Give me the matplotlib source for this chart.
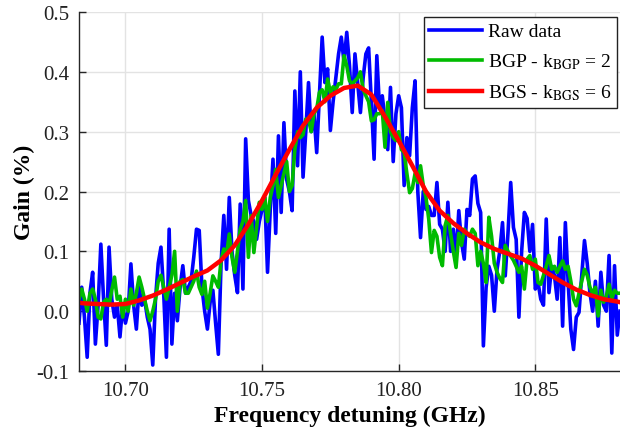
import numpy as np
import matplotlib
matplotlib.use("Agg")
import matplotlib.pyplot as plt

# frequency grid of the measurement (GHz), 1 MHz step
freq = np.linspace(10.683, 10.881, 199)

raw_gain = [
    -0.02, 0.04, -0.01, -0.077, 0.03, 0.065, -0.055, 0.01, 0.112, 0.02,
    -0.057, 0.107, 0.02, -0.01, 0.01, -0.043, 0.01, -0.02, 0.0, 0.079,
    0.01, -0.03, 0.04, 0.01, 0.02, -0.01, -0.03, -0.09, 0.02, 0.08,
    0.107, 0.03, -0.077, 0.137, -0.055, 0.03, -0.016, 0.04, 0.076, 0.03,
    0.04, 0.05, 0.09, 0.137, 0.135, 0.04, 0.0, -0.03, 0.015, 0.035,
    -0.02, -0.072, 0.08, 0.16, 0.07, 0.19, 0.1, 0.06, 0.031, 0.179,
    0.037, 0.288, 0.185, 0.16, 0.15, 0.12, 0.15, 0.17, 0.19, 0.065,
    0.17, 0.254, 0.13, 0.293, 0.165, 0.315, 0.22, 0.2, 0.168, 0.368,
    0.243, 0.4, 0.224, 0.3, 0.382, 0.3, 0.33, 0.265, 0.36, 0.458,
    0.382, 0.405, 0.302, 0.35, 0.39, 0.43, 0.458, 0.416, 0.466, 0.41,
    0.332, 0.43, 0.38, 0.332, 0.39, 0.43, 0.44, 0.35, 0.254, 0.427,
    0.338, 0.36, 0.32, 0.27, 0.374, 0.25, 0.33, 0.36, 0.34, 0.21,
    0.29, 0.26, 0.34, 0.385, 0.2, 0.123, 0.2, 0.17, 0.175, 0.16,
    0.16, 0.215, 0.145, 0.137, 0.1, 0.182, 0.1, 0.137, 0.09, 0.168,
    0.115, 0.087, 0.17, 0.16, 0.221, 0.226, 0.18, 0.165, -0.058, 0.04,
    0.075, 0.06, 0.0, 0.07, 0.1, 0.148, 0.059, 0.13, 0.215, 0.14,
    0.12, -0.01, 0.1, 0.165, 0.155, 0.1, 0.145, 0.037, 0.048, 0.02,
    0.01, 0.154, 0.031, 0.075, 0.06, 0.02, 0.123, -0.025, 0.148, 0.05,
    -0.03, -0.064, -0.01, -0.002, 0.06, 0.118, 0.08, 0.03, 0.0, 0.05,
    -0.025, 0.065, 0.01, 0.0, 0.093, -0.07, 0.076, -0.04, 0.0,
]

bgp_gain = [
    0.02, 0.037, 0.02, 0.0, 0.03, 0.037, 0.02, -0.01, -0.013, 0.015,
    0.02, 0.01, 0.035, 0.057, 0.02, 0.025, -0.01, 0.02, 0.0, 0.037,
    0.01, 0.03, 0.057, 0.04, 0.02, 0.0, -0.016, 0.0, 0.02, 0.05,
    0.06, 0.04, 0.02, 0.04, 0.06, 0.1, 0.0, 0.05, 0.053, 0.03,
    0.03, 0.04, 0.05, 0.067, 0.04, 0.028, 0.05, 0.005, 0.03, 0.059,
    0.05, 0.04, 0.085, 0.104, 0.095, 0.129, 0.09, 0.065, 0.1, 0.137,
    0.15, 0.185, 0.09, 0.16, 0.098, 0.14, 0.182, 0.17, 0.19, 0.15,
    0.19, 0.21, 0.237, 0.19, 0.21, 0.23, 0.25, 0.2, 0.21, 0.27,
    0.3, 0.29, 0.295, 0.321, 0.32, 0.3, 0.33, 0.338, 0.366, 0.37,
    0.35, 0.388, 0.365, 0.375, 0.37, 0.38, 0.38, 0.427, 0.41, 0.385,
    0.38, 0.385, 0.39, 0.40, 0.37, 0.36, 0.35, 0.318, 0.32, 0.33,
    0.33, 0.335, 0.274, 0.349, 0.3, 0.29, 0.285, 0.3, 0.27, 0.265,
    0.23, 0.198, 0.205, 0.23, 0.215, 0.243, 0.21, 0.19, 0.154, 0.098,
    0.135, 0.125, 0.09, 0.076, 0.143, 0.16, 0.13, 0.1, 0.073, 0.13,
    0.11, 0.137, 0.13, 0.125, 0.137, 0.13, 0.076, 0.1, 0.08, 0.048,
    0.157, 0.125, 0.08, 0.065, 0.055, 0.048, 0.11, 0.1, 0.092, 0.085,
    0.075, 0.065, 0.075, 0.037, 0.087, 0.093, 0.07, 0.087, 0.048, 0.045,
    0.06, 0.075, 0.093, 0.07, 0.075, 0.065, 0.075, 0.084, 0.07, 0.075,
    0.05, 0.02, 0.009, 0.03, 0.05, 0.07, 0.06, 0.04, 0.03, 0.04,
    -0.008, 0.035, 0.015, 0.025, 0.045, 0.02, 0.035, 0.03, 0.03,
]

bgs_freq = [
    10.683, 10.685, 10.690, 10.695, 10.700, 10.705, 10.710, 10.715, 10.720,
    10.725, 10.730, 10.735, 10.740, 10.745, 10.750, 10.755, 10.760, 10.765,
    10.770, 10.775, 10.780, 10.785, 10.790, 10.795, 10.800, 10.805, 10.810,
    10.815, 10.820, 10.825, 10.830, 10.835, 10.840, 10.845, 10.850, 10.855,
    10.860, 10.865, 10.870, 10.875, 10.880, 10.881,
]
bgs_gain = [
    0.014, 0.013, 0.012, 0.011, 0.012, 0.018, 0.026, 0.036, 0.047,
    0.058, 0.068, 0.085, 0.11, 0.145, 0.185, 0.228, 0.27, 0.31,
    0.34, 0.36, 0.373, 0.377, 0.362, 0.325, 0.285, 0.243, 0.2,
    0.168, 0.147, 0.13, 0.115, 0.104, 0.096, 0.088, 0.076, 0.062,
    0.048, 0.036, 0.027, 0.02, 0.016, 0.015,
]

labels = ["Raw data", r"BGP - k$_\mathrm{BGP}$ = 2", r"BGS - k$_\mathrm{BGS}$ = 6"]
x_ticks = [10.70, 10.75, 10.80, 10.85]
y_ticks = [-0.1, 0.0, 0.1, 0.2, 0.3, 0.4, 0.5]

plt.rcParams["font.family"] = ["Liberation Serif", "DejaVu Serif"]
plt.rcParams["mathtext.fontset"] = "stix"
plt.rcParams["axes.unicode_minus"] = False

fig = plt.figure(figsize=(6.2, 4.39), dpi=100)
ax = fig.add_axes([0.1274, 0.1526, 0.8726, 0.8178])

ax.plot(freq, raw_gain, color="#0000ff", lw=2.6, label=labels[0])
ax.plot(freq, bgp_gain, color="#00bb00", lw=2.6, label=labels[1])
ax.plot(bgs_freq, bgs_gain, color="#ff0000", lw=3.2, label=labels[2])

ax.set_xlim(10.683, 10.881)
ax.set_ylim(-0.1, 0.5)
ax.set_xticks(x_ticks)
ax.set_xticklabels([f"{t:.2f}" for t in x_ticks])
ax.set_yticks(y_ticks)
ax.set_yticklabels([f"{t:.1f}" for t in y_ticks])

ax.grid(True, color="#e3e3e3", lw=1.0)
ax.set_axisbelow(True)
for s in ["top", "right"]:
    ax.spines[s].set_visible(False)
for s in ["left", "bottom"]:
    ax.spines[s].set_color("#262626")
    ax.spines[s].set_linewidth(1.0)
ax.tick_params(direction="in", length=5, width=1.0, colors="#262626",
               labelcolor="#222222", labelsize=15, pad=7)

ax.set_xlabel("Frequency detuning (GHz)", fontsize=17, fontweight="bold", labelpad=4)
ax.set_ylabel("Gain (%)", fontsize=17, fontweight="bold", labelpad=1)

leg = ax.legend(loc="upper right", bbox_to_anchor=(0.995, 0.986), borderaxespad=0,
                fontsize=14, fancybox=False, framealpha=1, edgecolor="#222222",
                handlelength=2.7, handletextpad=0.3, labelspacing=0.58,
                borderpad=0.3)
leg.get_frame().set_linewidth(1.0)

fig.savefig("out.png", dpi=100)
